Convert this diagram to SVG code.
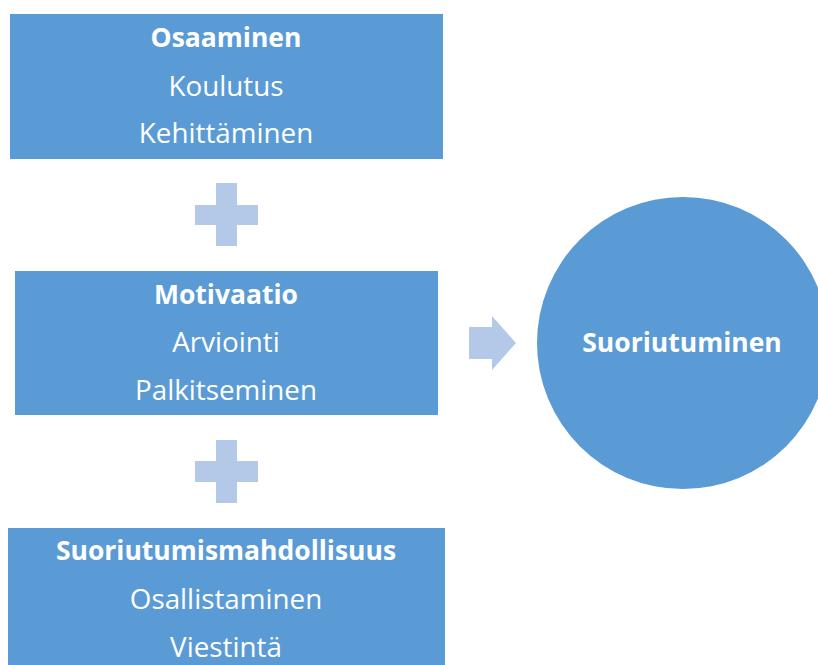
<svg xmlns="http://www.w3.org/2000/svg" width="818" height="665" viewBox="0 0 818 665">
  <style>
    .box { fill: #5B9BD5; }
    .sym { fill: #B4C9E8; }
    text { fill: #FFFFFF; font-family: "Open Sans", "Noto Sans", "Liberation Sans", sans-serif; text-anchor: middle; }
    .title { font-weight: bold; font-size: 26.5px; }
    .item { font-size: 27.8px; }
  </style>
  <rect width="818" height="665" fill="#FFFFFF"/>

  <g id="osaaminen">
    <rect class="box" x="10" y="14" width="433" height="145"/>
    <text class="title" x="226" y="47">Osaaminen</text>
    <text class="item" x="226" y="96">Koulutus</text>
    <text class="item" x="226" y="143">Kehittäminen</text>
  </g>

  <g id="motivaatio">
    <rect class="box" x="15" y="271" width="423" height="144"/>
    <text class="title" x="226" y="304">Motivaatio</text>
    <text class="item" x="226" y="352">Arviointi</text>
    <text class="item" x="226" y="400">Palkitseminen</text>
  </g>

  <g id="suoriutumismahdollisuus">
    <rect class="box" x="8" y="528" width="437" height="140"/>
    <text class="title" x="226" y="560">Suoriutumismahdollisuus</text>
    <text class="item" x="226" y="609">Osallistaminen</text>
    <text class="item" x="226" y="657">Viestintä</text>
  </g>

  <g id="suoriutuminen">
    <circle class="box" cx="683" cy="343" r="146"/>
    <text class="title" x="682" y="352">Suoriutuminen</text>
  </g>

  <g id="connectors">
    <path class="sym" d="M216 183H237V205H258V225H237V246H216V225H195V205H216Z"/>
    <path class="sym" d="M216 440H237V461H258V482H237V503H216V482H195V461H216Z"/>
    <path class="sym" d="M469 327H492V316L516 343L492 370V359H469Z"/>
  </g>
</svg>
